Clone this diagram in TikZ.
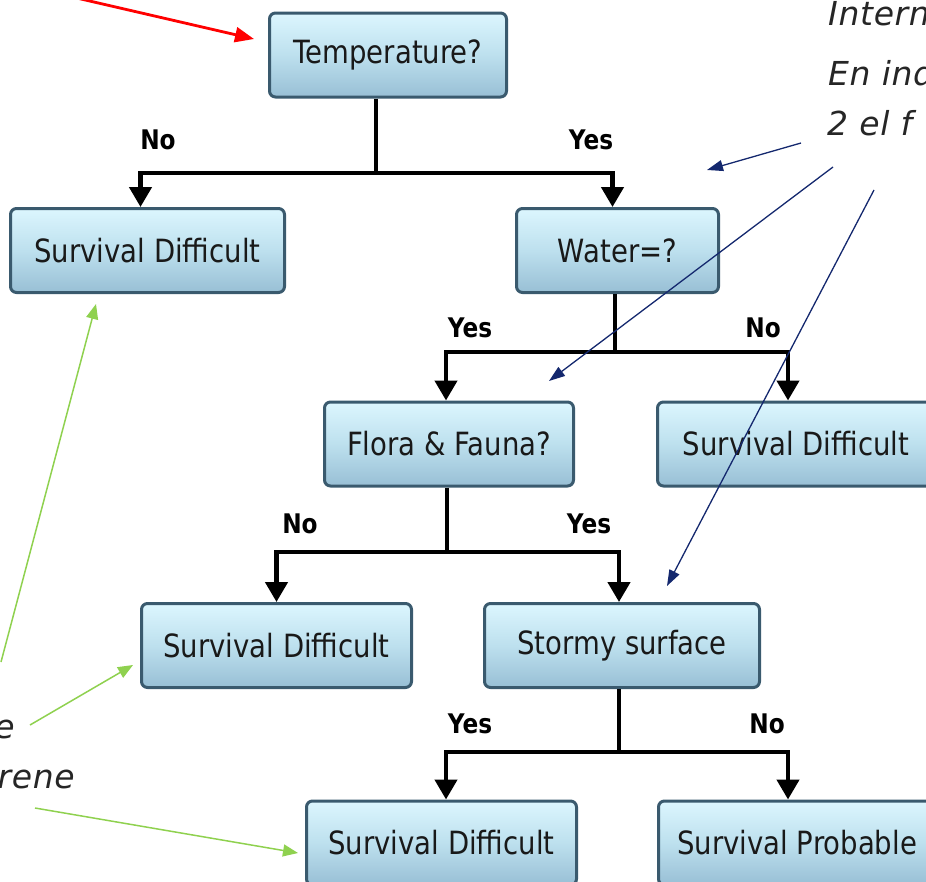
\documentclass[tikz,border=0pt]{standalone}
\usepackage{fontspec}
\usetikzlibrary{arrows.meta}
\newfontfamily\boxfont[FakeStretch=0.86]{DejaVu Sans}
\newfontfamily\handfont[LetterSpace=2]{DejaVu Sans}
\definecolor{boxtop}{HTML}{DCF6FE}
\definecolor{boxmid}{HTML}{BDE0EE}
\definecolor{boxbot}{HTML}{98BFD5}
\definecolor{boxline}{HTML}{3A5A6E}
\definecolor{navyc}{HTML}{14286E}
\definecolor{lgreen}{HTML}{8FD14F}
\definecolor{handc}{HTML}{262626}
\tikzset{
  box/.style={draw=boxline, line width=3pt, rounded corners=6pt,
    top color=boxtop, bottom color=boxbot, middle color=boxmid,
    minimum height=84pt, inner sep=0pt, text=black!90,
    font=\boxfont\fontsize{32}{38}\selectfont},
  conn/.style={line width=4.5pt, black},
  arr/.style={conn, -{Triangle[width=22pt,length=20pt]}},
  lbl/.style={inner sep=0pt, font=\boxfont\bfseries\fontsize{27}{32}\selectfont},
  hand/.style={inner sep=0pt, text=handc, font=\handfont\itshape\fontsize{33}{40}\selectfont},
  navyarr/.style={navyc, line width=1.3pt, -{Triangle[width=11pt,length=16pt]}},
  greenarr/.style={lgreen, line width=1.5pt, -{Triangle[width=12pt,length=15pt]}},
  redarr/.style={red, line width=2.8pt, -{Triangle[width=15pt,length=19pt]}}
}
\begin{document}
\begin{tikzpicture}[x=1pt,y=-1pt]
\useasboundingbox (0,0) rectangle (926,881);
\clip (0,0) rectangle (926,881);
% nodes
\node[box, minimum width=237pt] (T)  at (388,55)    {Temperature?};
\node[box, minimum width=274pt] (L1) at (147.5,250.5) {Survival Difficult};
\node[box, minimum width=202pt] (W)  at (617.5,250.5) {Water=?};
\node[box, minimum width=249pt] (F)  at (449,444)   {Flora \& Fauna?};
\node[box, minimum width=277pt] (R2) at (796,444)   {Survival Difficult};
\node[box, minimum width=270pt] (L3) at (276.5,645.5) {Survival Difficult};
\node[box, minimum width=275pt] (S)  at (622,645.5) {Stormy surface};
\node[box, minimum width=270pt] (B1) at (441.5,843) {Survival Difficult};
\node[box, minimum width=277pt] (B2) at (797,843)   {Survival Probable};
% connectors
\coordinate (j1) at (376,173);
\draw[conn] (T.south -| j1) -- (j1);
\draw[arr] (j1) -| ([xshift=-7pt]L1.north);
\draw[arr] (j1) -| ([xshift=-5pt]W.north);
\coordinate (j2) at (615,352);
\draw[conn] (W.south -| j2) -- (j2);
\draw[arr] (j2) -| ([xshift=-3pt]F.north);
\draw[arr] (j2) -| ([xshift=-8pt]R2.north);
\coordinate (j3) at (447,552);
\draw[conn] (F.south -| j3) -- (j3);
\draw[arr] (j3) -| ([xshift=0pt]L3.north);
\draw[arr] (j3) -| ([xshift=-3pt]S.north);
\coordinate (j4) at (619,752);
\draw[conn] (S.south -| j4) -- (j4);
\draw[arr] (j4) -| ([xshift=4.5pt]B1.north);
\draw[arr] (j4) -| ([xshift=-9pt]B2.north);
% labels
\node[lbl] (n1) at (158,140) {No};
\node[lbl] (y1) at (591,140) {Yes};
\node[lbl] (y2) at (470,328) {Yes};
\node[lbl] (n2) at (763,328) {No};
\node[lbl] (n3) at (300,524) {No};
\node[lbl] (y3) at (589,524) {Yes};
\node[lbl] (y4) at (470,724) {Yes};
\node[lbl] (n4) at (767,724) {No};
% annotations
\node[hand, anchor=base west] (a1) at (828,25) {Intern};
\node[hand, anchor=base west] (a2) at (828,85) {En ind};
\node[hand, anchor=base west] (a3) at (827,135) {2 el f};
\node[hand, anchor=base east] (a4) at (15,738) {e};
\node[hand, anchor=base east] (a5) at (75,788) {rene};
% red arrow
\coordinate (r0) at (68,-4);
\coordinate (r1) at (254,39);
\draw[redarr] (r0) -- (r1);
% navy arrows
\coordinate (m0) at (801,143);
\coordinate (m1) at (707,170);
\draw[navyarr] (m0) -- (m1);
\coordinate (m2) at (833,167);
\coordinate (m3) at (549,381);
\draw[navyarr] (m2) -- (m3);
\coordinate (m4) at (874,190);
\coordinate (m5) at (667,586);
\draw[navyarr] (m4) -- (m5);
% green arrows
\coordinate (g0) at (1,662);
\coordinate (g1) at (96,304);
\draw[greenarr] (g0) -- (g1);
\coordinate (g2) at (30,725);
\coordinate (g3) at (133,665);
\draw[greenarr] (g2) -- (g3);
\coordinate (g4) at (35,808);
\coordinate (g5) at (298,853);
\draw[greenarr] (g4) -- (g5);
\end{tikzpicture}
\end{document}
